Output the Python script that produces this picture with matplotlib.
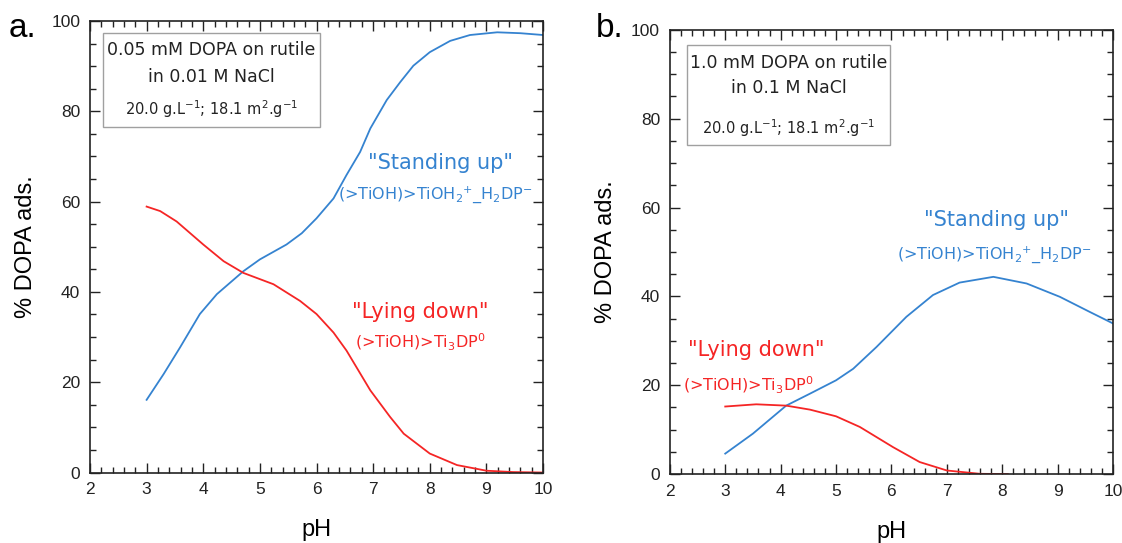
import numpy as np
import matplotlib.pyplot as plt
from matplotlib.ticker import MultipleLocator
from matplotlib.patches import Rectangle

plt.rcParams['font.family'] = ['Liberation Sans', 'DejaVu Sans']
plt.rcParams['mathtext.default'] = 'regular'

# --- panel a: 0.05 mM DOPA, 0.01 M NaCl ---
ph_a_stand = [3.0, 3.3, 3.59, 3.94, 4.24, 4.71, 5.0, 5.47, 5.74, 6.0, 6.3, 6.53,
              6.77, 6.95, 7.24, 7.48, 7.71, 8.0, 8.36, 8.71, 9.19, 9.6, 10.0]
stand_a = [16.1, 21.8, 27.7, 35.1, 39.5, 44.6, 47.2, 50.5, 53.0, 56.3, 60.7, 65.9,
           71.0, 76.2, 82.5, 86.5, 90.1, 93.1, 95.6, 96.9, 97.5, 97.3, 96.9]
ph_a_lying = [3.0, 3.24, 3.53, 4.0, 4.36, 4.71, 5.24, 5.71, 6.0, 6.3, 6.53, 6.95,
              7.3, 7.54, 8.0, 8.48, 9.0, 9.47, 10.0]
lying_a = [58.9, 57.9, 55.6, 50.5, 46.8, 44.2, 41.7, 38.0, 35.1, 31.0, 27.0, 18.2,
           12.3, 8.6, 4.2, 1.65, 0.4, 0.1, 0.0]

# --- panel b: 1.0 mM DOPA, 0.1 M NaCl ---
ph_b_stand = [3.0, 3.5, 4.1, 4.53, 5.0, 5.31, 5.73, 6.27, 6.75, 7.23, 7.84, 8.44,
              9.04, 9.58, 10.0]
stand_b = [4.6, 9.1, 15.4, 18.1, 21.1, 23.7, 28.6, 35.4, 40.3, 43.1, 44.4, 42.9,
           39.9, 36.5, 33.9]
ph_b_lying = [3.0, 3.56, 4.1, 4.53, 5.0, 5.43, 6.03, 6.51, 7.0, 7.6, 8.1]
lying_b = [15.2, 15.7, 15.4, 14.5, 13.0, 10.6, 6.05, 2.7, 0.8, 0.05, 0.0]

blue = "#3583d0"
red = "#f52525"
note_font = "DejaVu Sans"

fig = plt.figure(figsize=(11.22, 5.43), dpi=100)
ax_a = fig.add_axes([0.0802, 0.1298, 0.4038, 0.8315])
ax_b = fig.add_axes([0.597, 0.127, 0.395, 0.818])


def style_axis(ax):
    ax.set_xlim(2, 10)
    ax.set_ylim(0, 100)
    ax.xaxis.set_major_locator(MultipleLocator(1))
    ax.xaxis.set_minor_locator(MultipleLocator(0.2))
    ax.yaxis.set_major_locator(MultipleLocator(20))
    ax.yaxis.set_minor_locator(MultipleLocator(5))
    ax.tick_params(which="both", direction="in", top=True, right=True,
                   labelsize=12.5, colors="#222222", width=1.0)
    ax.tick_params(which="major", length=7, pad=7)
    ax.tick_params(which="minor", length=4)
    for s in ax.spines.values():
        s.set_linewidth(1.2)
        s.set_color("#222222")
    ax.set_xlabel("pH", fontsize=17, labelpad=16)
    ax.set_ylabel("% DOPA ads.", fontsize=17, labelpad=10)


def note_box(ax, x0, y0, w, h, xc, lines, ys):
    ax.add_patch(Rectangle((x0, y0), w, h, transform=ax.transAxes, fc="white",
                           ec="#a0a0a0", lw=1.0, zorder=3))
    sizes = [12.5, 12.5, 10.5]
    for txt, y, fs in zip(lines, ys, sizes):
        ax.text(xc, y, txt, transform=ax.transAxes, ha="center", va="center",
                fontsize=fs, family=note_font, color="#222222", zorder=4)


style_axis(ax_a)
style_axis(ax_b)

ax_a.plot(ph_a_stand, stand_a, color=blue, lw=1.3)
ax_a.plot(ph_a_lying, lying_a, color=red, lw=1.3)
ax_b.plot(ph_b_stand, stand_b, color=blue, lw=1.3)
ax_b.plot(ph_b_lying, lying_b, color=red, lw=1.3)

conc_lines = "20.0 g.L$^{-1}$; 18.1 m$^{2}$.g$^{-1}$"
sub_stand = "(>TiOH)>TiOH$_2$$^{+}$_H$_2$DP$^{-}$"
sub_lying = "(>TiOH)>Ti$_3$DP$^{0}$"

# panel a annotations
note_box(ax_a, 0.029, 0.765, 0.479, 0.208, 0.268,
         ["0.05 mM DOPA on rutile", "in 0.01 M NaCl", conc_lines],
         [0.935, 0.876, 0.805])
ax_a.text(0.773, 0.685, '"Standing up"', transform=ax_a.transAxes, ha="center",
          va="center", fontsize=15, color=blue, family=note_font)
ax_a.text(0.762, 0.615, sub_stand, transform=ax_a.transAxes,
          ha="center", va="center", fontsize=11.5, color=blue, family=note_font)
ax_a.text(0.729, 0.355, '"Lying down"', transform=ax_a.transAxes, ha="center",
          va="center", fontsize=15, color=red, family=note_font)
ax_a.text(0.729, 0.287, sub_lying, transform=ax_a.transAxes,
          ha="center", va="center", fontsize=11.5, color=red, family=note_font)

# panel b annotations
note_box(ax_b, 0.038, 0.741, 0.458, 0.225, 0.2675,
         ["1.0 mM DOPA on rutile", "in 0.1 M NaCl", conc_lines],
         [0.926, 0.869, 0.779])
ax_b.text(0.737, 0.572, '"Standing up"', transform=ax_b.transAxes, ha="center",
          va="center", fontsize=15, color=blue, family=note_font)
ax_b.text(0.733, 0.493, sub_stand, transform=ax_b.transAxes,
          ha="center", va="center", fontsize=11.5, color=blue, family=note_font)
ax_b.text(0.196, 0.279, '"Lying down"', transform=ax_b.transAxes, ha="center",
          va="center", fontsize=15, color=red, family=note_font)
ax_b.text(0.177, 0.2, sub_lying, transform=ax_b.transAxes,
          ha="center", va="center", fontsize=11.5, color=red, family=note_font)

fig.text(0.008, 0.948, "a.", fontsize=24, va="center", ha="left")
fig.text(0.531, 0.948, "b.", fontsize=24, va="center", ha="left")

fig.savefig("out.png", dpi=100)
